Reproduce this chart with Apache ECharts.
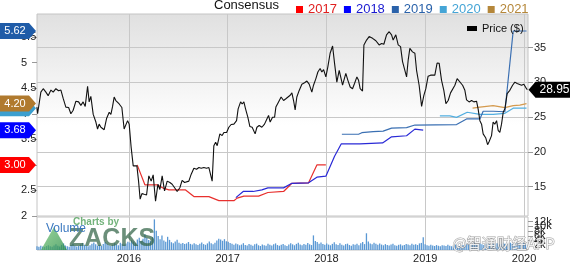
<!DOCTYPE html>
<html>
<head>
<meta charset="utf-8">
<script src="https://cdn.jsdelivr.net/npm/echarts@6/dist/echarts.min.js"></script>
<style>
html,body{margin:0;padding:0;background:#fff;}
#chart{width:570px;height:264px;}
</style>
</head>
<body>
<div id="chart"></div>
<script>
// ---------- DATA ----------
const yearTicks = [2016, 2017, 2018, 2019, 2020];
const epsTicks = [2, 2.5, 3, 3.5, 4, 4.5, 5, 5.5];
const priceTicks = [15, 20, 25, 30, 35];
const volumeTicks = [0, 2000, 4000, 6000, 8000, 10000, 12000, 14000];

const priceYears = [2015.069,2015.076,2015.109,2015.133,2015.160,2015.183,2015.211,2015.234,2015.261,2015.288,2015.312,2015.335,2015.362,2015.390,2015.413,2015.436,2015.464,2015.491,2015.514,2015.537,2015.558,2015.582,2015.598,2015.615,2015.639,2015.666,2015.683,2015.699,2015.717,2015.750,2015.774,2015.801,2015.818,2015.835,2015.851,2015.868,2015.902,2015.929,2015.952,2015.970,2015.987,
2016.003,2016.023,2016.044,2016.064,2016.081,2016.098,2016.114,2016.132,2016.155,2016.179,2016.202,2016.226,2016.246,2016.270,2016.294,2016.314,2016.337,2016.361,2016.388,2016.415,2016.438,2016.463,2016.489,2016.516,2016.539,2016.564,2016.584,2016.607,2016.631,2016.658,2016.685,2016.709,2016.732,2016.759,2016.786,2016.810,2016.827,2016.843,2016.860,2016.878,2016.894,2016.921,2016.944,2016.962,2016.989,
2017.012,2017.035,2017.063,2017.090,2017.106,2017.131,2017.147,2017.164,2017.181,2017.204,2017.225,2017.248,2017.262,2017.278,2017.296,2017.319,2017.346,2017.373,2017.397,2017.414,2017.430,2017.454,2017.475,2017.488,2017.515,2017.541,2017.566,2017.589,2017.609,2017.633,2017.650,2017.667,2017.683,2017.700,2017.724,2017.751,2017.778,2017.802,2017.825,2017.852,2017.869,2017.893,2017.913,2017.936,2017.953,2017.971,2017.994,
2018.014,2018.037,2018.062,2018.082,2018.105,2018.129,2018.149,2018.163,2018.183,2018.196,2018.217,2018.240,2018.264,2018.284,2018.308,2018.325,2018.341,2018.365,2018.379,2018.406,2018.432,2018.467,2018.500,2018.533,2018.558,2018.581,2018.608,2018.635,2018.659,2018.675,2018.702,2018.726,2018.750,2018.770,2018.786,2018.811,2018.827,2018.844,2018.871,2018.895,2018.912,2018.938,2018.963,2018.986,
2019.006,2019.029,2019.054,2019.074,2019.097,2019.120,2019.141,2019.165,2019.188,2019.209,2019.232,2019.256,2019.276,2019.300,2019.323,2019.343,2019.378,2019.401,2019.418,2019.444,2019.469,2019.492,2019.519,2019.535,2019.553,2019.570,2019.586,2019.613,2019.631,2019.647,2019.671,2019.687,2019.704,2019.722,2019.738,2019.755,2019.772,2019.789,2019.806,2019.829,2019.856,2019.884,2019.907,2019.930,2019.950,2019.975,2019.998,2020.025,2020.033];
const priceValues = [26.45,25.5,28.6,29.1,28.6,28.1,28.9,28.6,29.1,28.8,28.9,27.7,26.45,26.4,25.5,26.0,27.3,27.2,26.7,27.2,26.55,29.45,27.2,28.0,25.4,24.3,23.3,24.0,23.55,23.2,24.8,25.7,25.4,26.55,27.9,27.4,26.9,26.4,23.3,23.1,24.5,
24.0,20.65,18.0,17.75,18.0,15.8,13.2,14.0,13.9,13.8,16.55,15.8,16.7,12.9,15.35,14.6,16.55,14.4,15.8,15.6,15.35,14.85,14.3,14.85,15.9,15.6,15.35,15.8,16.8,17.65,17.5,17.75,17.65,17.75,17.65,17.75,17.5,15.8,20.9,21.4,20.9,22.6,22.35,22.8,22.8,
23.55,23.95,24.0,24.5,26.2,27.2,26.9,27.2,26.2,25.0,23.65,23.55,23.3,22.6,23.55,23.8,23.55,24.0,24.75,25.25,24.3,25.0,25.0,26.45,27.2,27.9,27.4,27.65,27.4,28.15,28.5,27.4,26.05,27.9,28.85,29.75,29.95,30.2,29.75,28.6,29.6,30.55,31.5,32.0,31.5,31.85,30.8,
32.25,34.2,35.25,32.75,30.05,31.75,31.85,29.6,29.85,31.3,30.3,29.35,29.1,29.85,30.8,30.3,29.1,28.77,35.4,36.1,36.6,36.35,36.0,35.4,35.6,35.5,36.85,37.3,36.85,36.1,36.85,35.4,35.15,33.0,32.8,30.8,33.2,34.9,34.4,34.2,31.75,29.6,26.55,28.15,
29.1,30.9,31.05,31.3,31.05,32.8,32.75,30.3,28.87,26.95,27.4,28.5,28.77,29.6,30.55,30.4,29.6,28.87,27.5,27.2,27.4,27.2,27.3,26.2,24.5,24.0,22.6,22.0,21.05,21.5,22.35,24.3,24.0,24.5,23.1,22.8,24.0,25.7,26.2,28.4,28.87,29.6,30.05,29.85,30.05,29.6,29.75,29.1,28.95];

const c2017Years = [2016.084,2016.162,2016.202,2016.286,2016.354,2016.405,2016.574,2016.658,2016.810,2016.911,2017.063,2017.096,2017.164,2017.313,2017.407,2017.566,2017.650,2017.819,2017.903,2017.994];
const c2017Values = [3.00,2.61,2.61,2.61,2.54,2.51,2.51,2.38,2.38,2.30,2.30,2.35,2.39,2.39,2.46,2.48,2.64,2.65,3.00,3.00];
const c2018Years = [2017.083,2017.157,2017.258,2017.346,2017.407,2017.566,2017.650,2017.819,2017.903,2017.994,2018.082,2018.149,2018.338,2018.568,2018.659,2018.811,2018.895,2018.979];
const c2018Values = [2.36,2.48,2.48,2.51,2.55,2.55,2.64,2.65,2.76,2.78,3.17,3.41,3.41,3.43,3.55,3.57,3.70,3.68];
const c2019Years = [2018.156,2018.325,2018.358,2018.473,2018.574,2018.659,2018.811,2018.895,2019.317,2019.418,2019.553,2019.586,2019.687,2019.806,2019.890,2020.025];
const c2019Values = [3.60,3.60,3.63,3.65,3.66,3.72,3.73,3.78,3.79,3.90,3.90,4.05,4.05,4.04,5.62,5.62];
const c2020Years = [2019.148,2019.249,2019.317,2019.425,2019.553,2019.687,2019.806,2019.890,2020.025];
const c2020Values = [3.96,3.96,3.93,4.03,3.99,3.99,4.01,4.11,4.11];
const c2021Years = [2019.479,2019.553,2019.687,2019.806,2019.890,2019.957,2020.025];
const c2021Values = [4.11,4.13,4.16,4.12,4.16,4.17,4.20];

// weekly volume (thousands of shares), first week starts late Jan 2015
const volumeStartYear = 2015.07;
const volume2015 = [1.6,1.4,1.8,1.5,1.3,1.7,2.0,1.6,1.4,1.9,2.4,1.8,1.5,2.2,2.8,1.9,1.6,1.4,2.1,2.6,1.8,1.5,1.7,2.3,3.0,2.2,1.8,1.6,2.0,2.7,3.2,2.4,1.9,2.1,1.7,2.5,3.4,2.6,2.0,1.8,2.2,2.9,2.4,2.0,3.1,2.6,2.3,2.8,3.5];
const volume2016 = [3.2,4.1,3.6,2.9,4.5,5.2,3.8,4.8,6.7,5.1,4.2,3.9,5.5,13.0,8.2,5.9,4.6,6.1,4.0,3.5,5.6,4.3,3.3,2.9,3.6,4.4,3.1,2.7,3.0,2.5,2.8,3.4,2.6,2.3,2.9,2.4,2.1,2.7,3.2,2.5,2.2,2.8,3.6,2.9,2.4,3.1,4.0,4.8,4.5,3.9,4.6,3.7];
const volume2017 = [3.5,3.0,2.6,2.2,2.8,2.4,2.0,2.3,2.9,2.1,1.9,2.5,2.2,1.8,2.4,2.7,2.0,1.7,2.3,2.0,1.8,2.6,2.2,1.9,2.4,2.8,2.1,1.8,2.2,2.5,2.0,1.7,2.3,2.9,2.4,2.0,2.6,3.1,2.3,2.0,2.5,2.2,3.0,2.4,2.1,6.2,3.8,3.4,2.6,3.2,2.5,2.2];
const volume2018 = [2.8,2.3,2.0,2.6,3.3,2.4,2.1,2.9,2.2,1.9,2.5,2.7,2.1,1.8,2.4,2.2,2.6,2.0,2.9,3.4,2.5,7.1,3.6,2.8,2.4,3.1,2.6,2.2,2.8,2.3,2.0,2.5,2.1,1.9,2.3,2.6,2.0,1.8,2.2,2.4,1.9,2.1,2.5,2.3,2.0,2.7,2.2,2.4,2.1,2.8,3.0,5.4];
const volume2019 = [2.4,2.0,1.8,2.2,1.9,1.7,2.1,1.8,1.6,2.0,1.9,1.7,2.2,1.8,1.6,1.9,2.3,2.0,1.7,1.9,2.1,1.8,2.4,2.9,2.2,2.6,3.1,2.5,2.2,2.8,2.4,2.1,2.6,3.0,2.5,2.2,2.7,2.4,2.9,2.3,2.6,3.2,2.7,2.4,2.8,3.1,2.6,2.3,2.9,3.3,2.7,2.5];
const volume2020 = [3.0,2.6];

const lastPrice = 28.95;

// ---------- BUILD ----------
const FONT = 'Liberation Sans, Arial, sans-serif';
const X_MIN = 2015.07, X_MAX = 2020.04;
const zip = (xs, ys) => xs.map((x, i) => [x, ys[i]]);
const allVolume = [].concat(volume2015, volume2016, volume2017, volume2018, volume2019, volume2020);
const volumeData = allVolume.map((v, i) => [volumeStartYear + i * 7 / 365.25, v * 1000]);

const colors = {
  '2017': {line: '#e8302e', legend: '#ff0000', text: '#e02020'},
  '2018': {line: '#2a2ad6', legend: '#0000ff', text: '#1a1ad0'},
  '2019': {line: '#3a6fb2', legend: '#2a62aa', text: '#2a62aa'},
  '2020': {line: '#52aee0', legend: '#45a5d6', text: '#45a5d6'},
  '2021': {line: '#d49a4e', legend: '#b5873a', text: '#b5873a'}
};
const flagColors = {'2017': '#ff0000', '2018': '#0000ff', '2019': '#1f5ca8', '2020': '#3b9fcf', '2021': '#b07a2e'};
const leftFlag = 'path://M0,0 L29,0 L36,8 L29,16 L0,16 Z';
const rightFlag = 'path://M0,8 L7,0 L48,0 L48,16 L7,16 Z';

function consensusSeries(name, xs, ys, showFlagText) {
  const last = ys[ys.length - 1];
  return {
    name: name, type: 'line', xAxisIndex: 0, yAxisIndex: 0,
    data: zip(xs, ys), showSymbol: false, symbol: 'none',
    lineStyle: {color: colors[name].line, width: 1.2},
    itemStyle: {color: colors[name].legend},
    animation: false,
    markPoint: {
      symbol: leftFlag, symbolSize: [36, 16], symbolOffset: [-19, 0],
      itemStyle: {color: flagColors[name]},
      label: {show: showFlagText, position: 'inside', offset: [-3, 0], color: '#fff', fontSize: 11, fontFamily: FONT,
        formatter: () => last.toFixed(2)},
      data: [{coord: [X_MIN, last]}]
    }
  };
}

const chart = echarts.init(document.getElementById('chart'), null, {renderer: 'canvas'});
const option = {
  animation: false,
  backgroundColor: '#fff',
  textStyle: {fontFamily: FONT},
  grid: [
    {left: 37, right: 42, top: 14, height: 202, show: true, borderColor: '#c4c4c4', borderWidth: 1,
      backgroundColor: {type: 'linear', x: 0, y: 0, x2: 0, y2: 1,
        colorStops: [{offset: 0, color: '#e0e0e0'}, {offset: 0.55, color: '#ffffff'}, {offset: 1, color: '#ffffff'}]}},
    {left: 37, right: 42, top: 217, height: 37, show: true, borderColor: '#c4c4c4', borderWidth: 1, backgroundColor: '#fff'}
  ],
  legend: [
    {left: 291, top: -2, itemWidth: 7, itemHeight: 7, itemGap: 7, icon: 'rect',
      textStyle: {fontSize: 13, fontFamily: FONT},
      data: ['2017', '2018', '2019', '2020', '2021'].map(n => ({name: n, textStyle: {color: colors[n].text}})),
      selectedMode: false},
    {left: 462, top: 18, itemWidth: 10, itemHeight: 5, icon: 'rect',
      textStyle: {fontSize: 11, color: '#111', fontFamily: FONT},
      data: ['Price ($)'], selectedMode: false}
  ],
  xAxis: [
    {type: 'value', gridIndex: 0, min: X_MIN, max: X_MAX,
      axisLine: {show: false}, axisTick: {show: false, customValues: yearTicks},
      axisLabel: {show: false, customValues: yearTicks},
      splitLine: {show: true, lineStyle: {color: '#c8c8c8', width: 1}}},
    {type: 'value', gridIndex: 1, min: X_MIN, max: X_MAX,
      axisLine: {show: false}, axisTick: {show: false, customValues: yearTicks},
      axisLabel: {show: true, customValues: yearTicks, margin: 3, fontSize: 11, color: '#222', fontFamily: FONT,
        formatter: v => String(Math.round(v))},
      splitLine: {show: true, lineStyle: {color: '#c8c8c8', width: 1}}}
  ],
  yAxis: [
    {type: 'value', gridIndex: 0, position: 'left', min: 2, max: 5.953,
      axisLine: {show: false},
      axisTick: {show: true, length: 5, customValues: epsTicks, lineStyle: {color: '#999'}},
      axisLabel: {customValues: epsTicks, align: 'left', margin: 16, fontSize: 11, color: '#222', fontFamily: FONT,
        formatter: v => String(v)},
      splitLine: {show: false}},
    {type: 'value', gridIndex: 0, position: 'right', min: 10.78, max: 39.85,
      axisLine: {show: false},
      axisTick: {show: true, length: 5, customValues: priceTicks, lineStyle: {color: '#999'}},
      axisLabel: {customValues: priceTicks, margin: 6, fontSize: 11, color: '#222', fontFamily: FONT},
      splitLine: {show: true, lineStyle: {color: '#c8c8c8', width: 1}}},
    {type: 'value', gridIndex: 1, position: 'right', min: 0, max: 14000,
      axisLine: {show: false},
      axisTick: {show: true, length: 5, customValues: volumeTicks, lineStyle: {color: '#999'}},
      axisLabel: {customValues: volumeTicks, margin: 6, fontSize: 11, color: '#222', fontFamily: FONT,
        formatter: v => v === 0 ? '0' : (v / 1000) + 'k'},
      splitLine: {show: false}}
  ],
  series: [
    {name: 'Volume', type: 'bar', xAxisIndex: 1, yAxisIndex: 2, data: volumeData,
      barWidth: 1.3, itemStyle: {color: '#5a98d4'}, silent: true},
    consensusSeries('2017', c2017Years, c2017Values, true),
    consensusSeries('2018', c2018Years, c2018Values, true),
    consensusSeries('2020', c2020Years, c2020Values, false),
    consensusSeries('2021', c2021Years, c2021Values, true),
    consensusSeries('2019', c2019Years, c2019Values, true),
    {name: 'Price ($)', type: 'line', xAxisIndex: 0, yAxisIndex: 1,
      data: zip(priceYears, priceValues), showSymbol: false, symbol: 'none',
      lineStyle: {color: '#111', width: 1.1}, itemStyle: {color: '#000'}, z: 5,
      markPoint: {
        symbol: rightFlag, symbolSize: [48, 16], symbolOffset: [24.5, 0],
        itemStyle: {color: '#000'},
        label: {show: true, position: 'inside', offset: [2, 0], color: '#fff', fontSize: 12, fontFamily: FONT,
          formatter: () => lastPrice.toFixed(2)},
        data: [{coord: [X_MAX, lastPrice]}]
      }}
  ],
  graphic: [
    {type: 'text', left: 214, top: -1, style: {text: 'Consensus', fontSize: 13, fill: '#111', fontFamily: FONT}},
    {type: 'polygon', shape: {points: [[41, 250], [54, 227], [67, 250]]},
      style: {fill: {type: 'linear', x: 0, y: 0, x2: 1, y2: 1,
        colorStops: [{offset: 0, color: 'rgba(120,200,120,0.75)'}, {offset: 1, color: 'rgba(40,140,70,0.75)'}]}}, z: 20},
    {type: 'text', left: 73, top: 217, style: {text: 'Charts by', fontSize: 10, fontWeight: 'bold', fill: 'rgba(80,160,90,0.8)', fontFamily: FONT}, z: 20},
    {type: 'text', left: 69, top: 227, style: {text: 'ZACKS', fontSize: 25, fontWeight: 'bold', fill: 'rgba(50,100,70,0.72)', fontFamily: FONT}, z: 20},
    {type: 'text', left: 46, top: 223, style: {text: 'Volume', fontSize: 12, fill: '#3a78c0', fontFamily: FONT}, z: 21},
    {type: 'text', left: 452, top: 235, style: {text: '@智通财经APP', fontSize: 15, fill: 'rgba(255,255,255,0.85)', stroke: 'rgba(120,120,120,0.7)', lineWidth: 1, fontFamily: 'Noto Sans CJK SC, sans-serif'}, z: 30}
  ]
};
chart.setOption(option);
</script>
</body>
</html>
